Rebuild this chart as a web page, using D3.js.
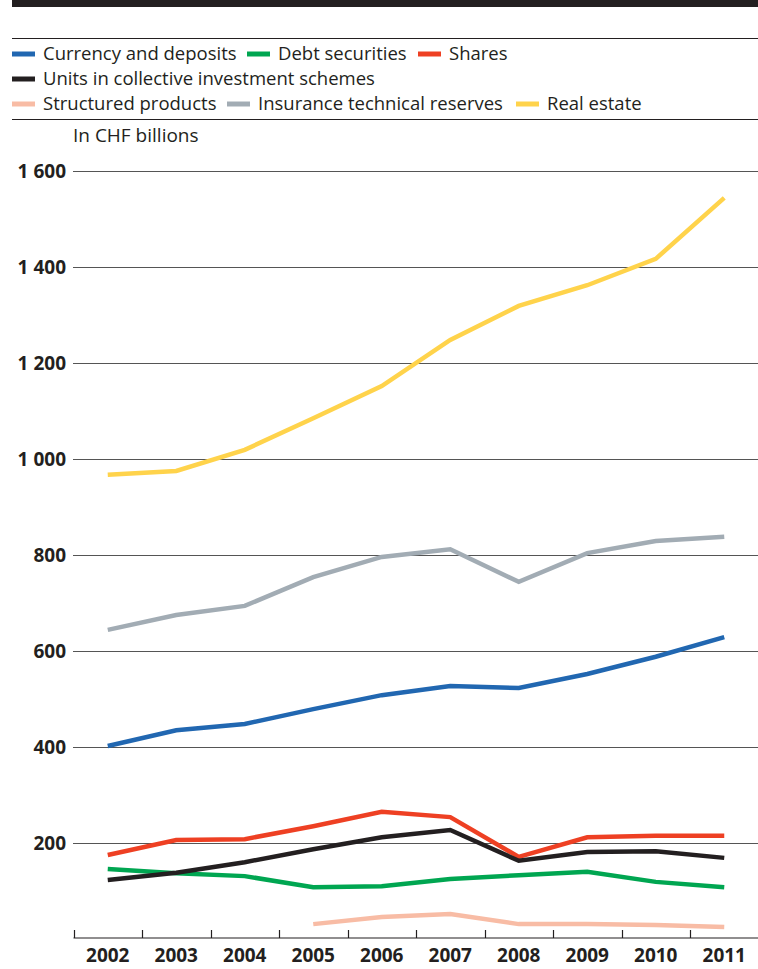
<!DOCTYPE html>
<html><head><meta charset="utf-8">
<script src="https://cdn.jsdelivr.net/npm/d3@7"></script>
<style>
body{margin:0;background:#fff;}
svg{display:block;}
text{font-family:"Open Sans",sans-serif;fill:#231f20;}
</style></head>
<body><svg id="chart" width="758" height="969"></svg>
<script>
const years = ["2002","2003","2004","2005","2006","2007","2008","2009","2010","2011"];
const currencyDeposits = [402,435,448,479,508,527,523,552,588,629];
const debtSecurities   = [146,137,131,108,110,125,133,140,119,108];
const shares           = [175,206,208,235,265,254,171,212,215,215];
const unitsCIS         = [123,138,160,187,212,227,163,181,183,169];
const structuredProducts = [null,null,null,31,46,52,31,31,29,25];
const insuranceReserves = [644,675,694,754,796,812,744,804,829,838];
const realEstate        = [967,975,1019,1085,1152,1248,1319,1362,1417,1544];
const yTicks = [200,400,600,800,1000,1200,1400,1600];
const seriesNames = ["Currency and deposits","Debt securities","Shares","Units in collective investment schemes","Structured products","Insurance technical reserves","Real estate"];
const seriesColors = ["#2167b1","#00a651","#ee4023","#231f20","#f8bca5","#a2acb4","#ffd34b"];

const series = [
  {name:seriesNames[0], color:seriesColors[0], values:currencyDeposits},
  {name:seriesNames[1], color:seriesColors[1], values:debtSecurities},
  {name:seriesNames[2], color:seriesColors[2], values:shares},
  {name:seriesNames[3], color:seriesColors[3], values:unitsCIS},
  {name:seriesNames[4], color:seriesColors[4], values:structuredProducts},
  {name:seriesNames[5], color:seriesColors[5], values:insuranceReserves},
  {name:seriesNames[6], color:seriesColors[6], values:realEstate}
];

const svg = d3.select("#chart");
const x = d3.scaleBand().domain(years).range([73.5, 758.5]);
const y = d3.scaleLinear().domain([0,1600]).range([939, 171]);

// top rules
svg.append("rect").attr("x",12).attr("y",0).attr("width",746).attr("height",7).attr("fill","#231f20");
svg.append("line").attr("x1",12).attr("x2",758).attr("y1",38.5).attr("y2",38.5).attr("stroke","#231f20").attr("stroke-width",1);
svg.append("line").attr("x1",12).attr("x2",758).attr("y1",119.5).attr("y2",119.5).attr("stroke","#231f20").attr("stroke-width",1);

// legend
const legendLayout = [
  [0,0,12],[1,0,247],[2,0,418],
  [3,1,12],
  [4,2,12],[5,2,227],[6,2,516]
];
const rowY = [54,79,104];
const lg = svg.append("g");
legendLayout.forEach(([i,r,lx])=>{
  lg.append("line").attr("x1",lx).attr("x2",lx+23).attr("y1",rowY[r]).attr("y2",rowY[r])
    .attr("stroke",series[i].color).attr("stroke-width",5);
  lg.append("text").attr("x",lx+31).attr("y",rowY[r]).attr("dy","0.35em")
    .attr("font-size",18.5).text(series[i].name);
});
svg.append("text").attr("x",73).attr("y",135).attr("dy","0.35em").attr("font-size",19).text("In CHF billions");

// grid + y labels
const fmt = v => d3.format(",")(v).replace(/,/g," ");
const yAxis = d3.axisLeft(y).tickValues(yTicks).tickSize(0).tickPadding(7).tickFormat(fmt);
const yg = svg.append("g").attr("transform","translate(73,0)").call(yAxis);
yg.select(".domain").remove();
yg.selectAll("text").attr("font-size",19).attr("font-weight","bold").attr("font-family","Open Sans, sans-serif").attr("fill","#231f20");
svg.append("g").selectAll("line").data(yTicks).join("line")
  .attr("x1",73).attr("x2",758).attr("y1",d=>Math.round(y(d))+0.5).attr("y2",d=>Math.round(y(d))+0.5)
  .attr("stroke","#555").attr("stroke-width",1.2);

// x axis
const xAxis = d3.axisBottom(x).tickSize(0).tickPadding(0);
const xg = svg.append("g").attr("transform","translate(0,938)").call(xAxis);
xg.select(".domain").attr("d","M73.5,0H758").attr("stroke","#231f20").attr("stroke-width",1.2);
xg.selectAll("text").attr("font-size",19).attr("font-weight","bold").attr("font-family","Open Sans, sans-serif").attr("fill","#231f20").attr("y",17).attr("dy","0.35em");
svg.append("g").selectAll("line").data(years).join("line")
  .attr("x1",d=>Math.round(x(d))+0.5).attr("x2",d=>Math.round(x(d))+0.5)
  .attr("y1",930).attr("y2",938).attr("stroke","#231f20").attr("stroke-width",1.2);

// lines
const line = d3.line().defined(d=>d.v!=null).x(d=>x(d.yr)+x.bandwidth()/2).y(d=>y(d.v));
svg.append("g").selectAll("path").data(series).join("path")
  .attr("d",s=>line(s.values.map((v,i)=>({yr:years[i],v}))))
  .attr("fill","none").attr("stroke",s=>s.color).attr("stroke-width",4.5)
  .attr("stroke-linejoin","miter");
</script></body></html>
